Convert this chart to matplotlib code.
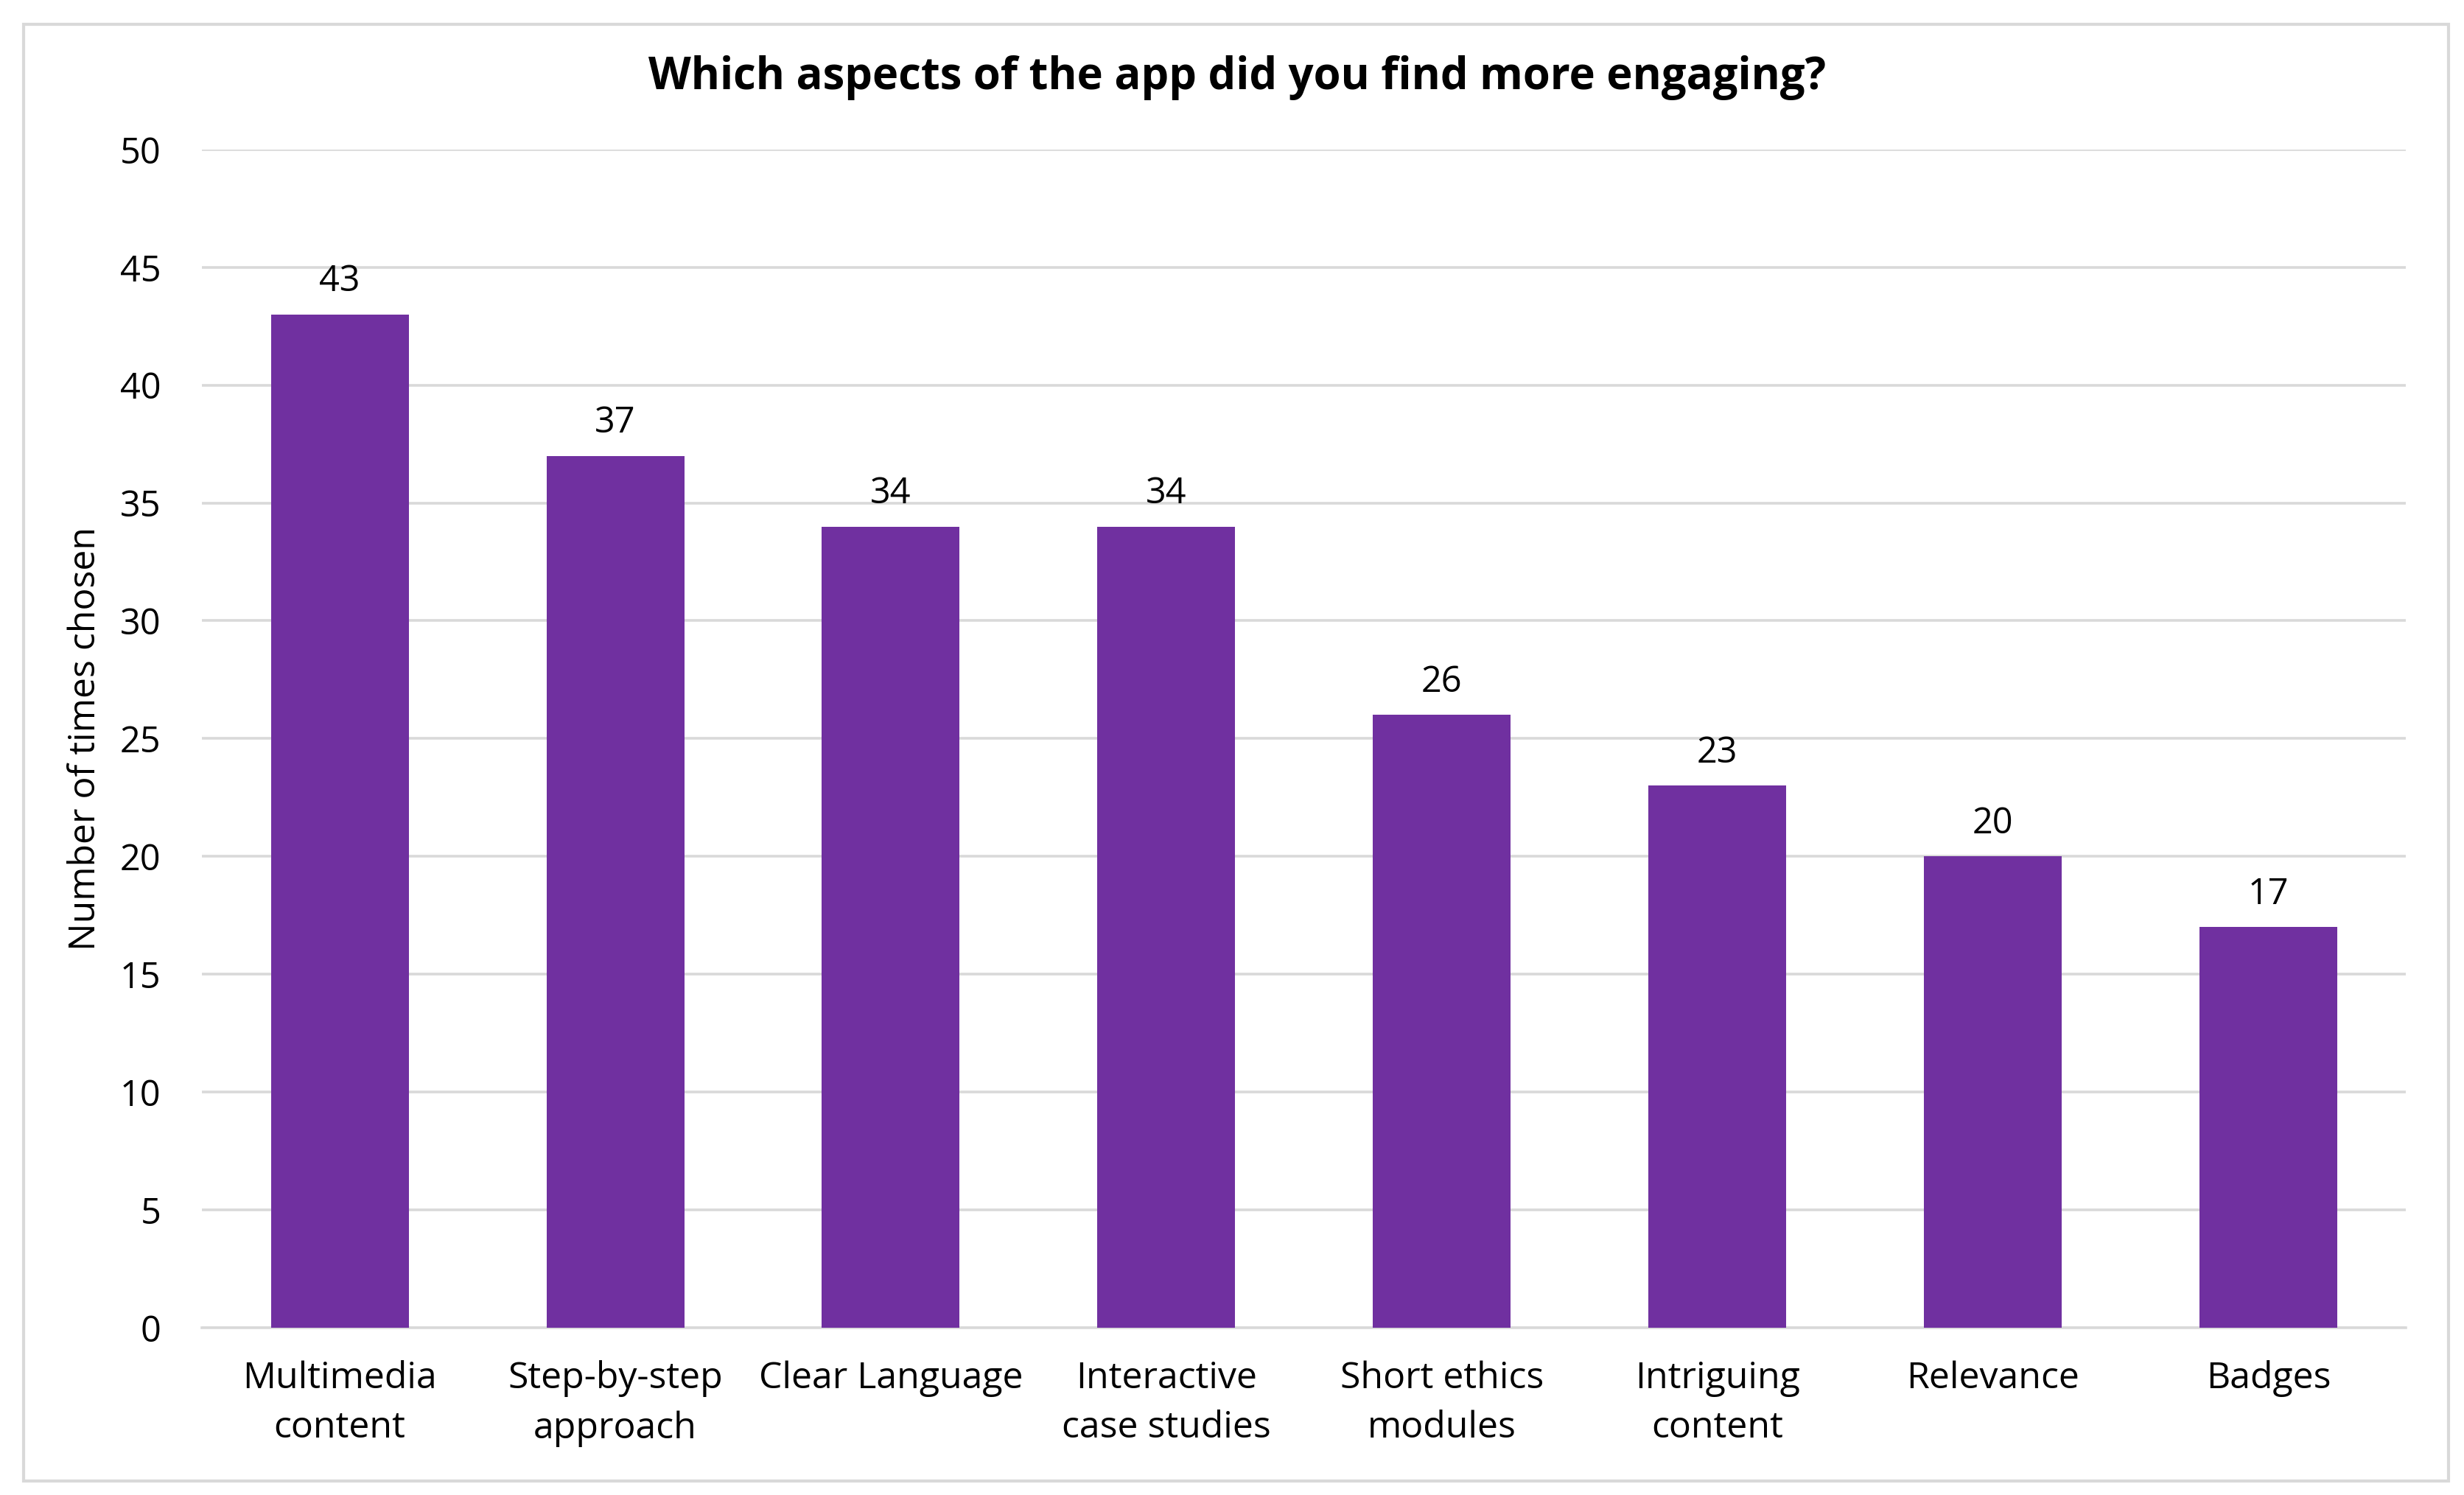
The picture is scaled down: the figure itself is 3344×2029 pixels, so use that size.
import matplotlib.pyplot as plt
from matplotlib.patches import Rectangle

categories = ['Multimedia\ncontent', 'Step-by-step\napproach', 'Clear Language',
              'Interactive\ncase studies', 'Short ethics\nmodules', 'Intriguing\ncontent',
              'Relevance', 'Badges']
counts = [43, 37, 34, 34, 26, 23, 20, 17]
yticks = [0, 5, 10, 15, 20, 25, 30, 35, 40, 45, 50]

plt.rcParams['font.family'] = ['Open Sans', 'DejaVu Sans']

fig = plt.figure(figsize=(16.72, 10.145), dpi=200)
ax = fig.add_axes([0.082, 0.112, 0.8945, 0.788])

x = range(len(categories))
bars = ax.bar(x, counts, width=0.5, color='#7030A0', zorder=3)
for b, v in zip(bars, counts):
    ax.annotate(str(v), (b.get_x() + b.get_width() / 2, v), xytext=(0, 7),
                textcoords='offset points', ha='center', va='bottom', fontsize=17.5)

ax.set_xlim(-0.5, 7.5)
ax.set_ylim(0, 50)
ax.set_yticks(yticks)
ax.set_xticks(list(x))
ax.set_xticklabels(categories, fontsize=18, linespacing=1.48)
ax.tick_params(axis='y', labelsize=17.5, length=0, pad=20)
ax.tick_params(axis='x', length=0, pad=16)
ax.grid(axis='y', color='#D9D9D9', linewidth=1.3, zorder=0)
for s in ['top', 'right', 'left']:
    ax.spines[s].set_visible(False)
ax.spines['bottom'].set_color('#D9D9D9')
ax.spines['bottom'].set_linewidth(1.3)
ax.set_ylabel('Number of times chosen', fontsize=18, labelpad=8)

fig.text(0.502, 0.948, 'Which aspects of the app did you find more engaging?',
         ha='center', va='center', fontsize=21.5, fontweight='bold')

fig.patches.append(Rectangle((0.0096, 0.0095), 0.984, 0.974, transform=fig.transFigure,
                             fill=False, edgecolor='#D9D9D9', linewidth=1.5))

fig.savefig('out.png', dpi=200, facecolor='white')
